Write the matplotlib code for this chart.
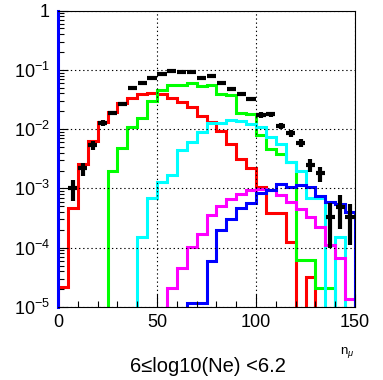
import numpy as np
import matplotlib
matplotlib.use("Agg")
import matplotlib.pyplot as plt
from matplotlib.ticker import LogLocator, MultipleLocator, NullFormatter

plt.rcParams['font.family'] = ['Liberation Sans', 'DejaVu Sans']
plt.rcParams['mathtext.fontset'] = 'custom'
plt.rcParams['mathtext.rm'] = 'Liberation Sans'
plt.rcParams['mathtext.it'] = 'Liberation Sans:italic'
plt.rcParams['mathtext.sf'] = 'Liberation Sans'

# n_mu bins, width 5, 0..150
bin_edges = np.arange(0, 155, 5)

# normalised n_mu distributions per primary (one value per bin)
red = [2.2e-5, 4.6e-4, 2.6e-3, 6.4e-3, 1.33e-2, 1.96e-2, 2.72e-2, 3.4e-2, 3.9e-2, 4.0e-2,
       3.9e-2, 3.35e-2, 2.9e-2, 2.33e-2, 1.67e-2, 1.33e-2, 9.3e-3, 5.6e-3, 3.1e-3, 2.18e-3,
       1.07e-3, 3.8e-4, 3.8e-4, 1.26e-4, 0, 3.2e-5, 0, 0, 0, 0]
green = [0, 0, 0, 0, 0, 2.0e-3, 4.85e-3, 1.07e-2, 1.52e-2, 3.0e-2,
         4.65e-2, 5.54e-2, 5.65e-2, 5.92e-2, 5.33e-2, 5.54e-2, 3.91e-2, 3.76e-2, 1.89e-2, 1.8e-2,
         7.95e-3, 4.56e-3, 3.8e-3, 2.82e-3, 6.2e-5, 6.2e-5, 2.07e-5, 2.07e-5, 0, 0]
cyan = [0, 0, 0, 0, 0, 0, 0, 0, 1.54e-4, 6.9e-4,
        1.3e-3, 1.68e-3, 4.45e-3, 6.13e-3, 9.0e-3, 1.25e-2, 1.25e-2, 1.42e-2, 1.37e-2, 1.2e-2,
        1.1e-2, 7.45e-3, 5.6e-3, 2.82e-3, 1.99e-3, 6.8e-4, 6.8e-4, 0, 1.5e-4, 0]
magenta = [0, 0, 0, 0, 0, 0, 0, 0, 0, 0,
           0, 2.1e-5, 4.6e-5, 1.04e-4, 1.68e-4, 3.56e-4, 5.05e-4, 6.5e-4, 7.9e-4, 9.4e-4,
           9.8e-4, 9.4e-4, 7.7e-4, 5.97e-4, 4.44e-4, 3.33e-4, 2.26e-4, 1.11e-4, 6.6e-5, 1.35e-5]
blue = [0, 0, 0, 0, 0, 0, 0, 0, 0, 0,
        0, 0, 0, 1.15e-5, 1.15e-5, 6.0e-5, 1.99e-4, 3.01e-4, 4.62e-4, 5.74e-4,
        8.5e-4, 9.4e-4, 1.19e-3, 1.07e-3, 1.14e-3, 1.04e-3, 7.4e-4, 6.0e-4, 5.5e-4, 4.05e-4]

# measured distribution, bins 5..150
data_val = [1.0e-3, 2.18e-3, 5.4e-3, 1.28e-2, 1.85e-2, 2.65e-2, 4.9e-2, 6.1e-2, 7.36e-2, 8.4e-2,
            9.4e-2, 9.1e-2, 9.1e-2, 7.3e-2, 7.9e-2, 6.1e-2, 4.75e-2, 3.86e-2, 3.18e-2, 1.73e-2,
            1.78e-2, 1.14e-2, 8.5e-3, 5.9e-3, 2.48e-3, 1.8e-3, 3.3e-4, 4.9e-4, 3.3e-4]
data_err = [3.9e-4, 5.5e-4, 9.0e-4, 1.3e-3, 1.5e-3, 1.9e-3, 2.5e-3, 3.0e-3, 3.5e-3, 4.0e-3,
            4.5e-3, 4.5e-3, 4.5e-3, 4.0e-3, 4.0e-3, 3.5e-3, 3.0e-3, 2.7e-3, 2.5e-3, 1.8e-3,
            1.8e-3, 1.5e-3, 1.2e-3, 9.0e-4, 6.2e-4, 5.0e-4, 2.3e-4, 2.8e-4, 2.2e-4]

fig = plt.figure(figsize=(3.83, 3.80), dpi=100)
ax = fig.add_axes([58 / 383, 73 / 380, 297 / 383, 296.5 / 380])
ax.set_yscale('log')

for vals, col in [(red, '#ff0000'), (green, '#00ff00'), (cyan, '#00ffff'),
                  (magenta, '#ff00ff'), (blue, '#0000ff')]:
    ax.stairs(vals, bin_edges, color=col, lw=2.2)

centers = (bin_edges[:-1] + bin_edges[1:]) / 2
ax.errorbar(centers[1:], data_val, xerr=2.3, yerr=data_err, fmt='none',
            ecolor='black', elinewidth=3.0, capsize=0, zorder=5)

ax.set_xlim(0, 150)
ax.set_ylim(1e-5, 1)

ax.set_xticks([0, 50, 100, 150])
ax.xaxis.set_minor_locator(MultipleLocator(10))
ax.set_yticks([1e-5, 1e-4, 1e-3, 1e-2, 1e-1, 1])
ax.set_yticklabels([r'$10^{-5}$', r'$10^{-4}$', r'$10^{-3}$', r'$10^{-2}$', r'$10^{-1}$', '1'])
ax.yaxis.set_minor_locator(LogLocator(base=10, subs=np.arange(2, 10)))
ax.yaxis.set_minor_formatter(NullFormatter())

ax.tick_params(which='both', direction='in', top=False, right=False,
               labelsize=13, color='black', width=0.8)
ax.tick_params(axis='x', which='major', length=9.5, pad=5)
ax.tick_params(axis='x', which='minor', length=4.3)
ax.tick_params(axis='y', which='major', length=7, pad=6)
ax.tick_params(axis='y', which='minor', length=4.3)

ax.grid(True, which='major', color='black', lw=0.8, ls=(0, (1.2, 2.5)))

for s in ['top', 'right', 'bottom']:
    ax.spines[s].set_linewidth(0.8)
ax.spines['left'].set_color('#0000ff')
ax.spines['left'].set_linewidth(2.2)

fig.text(347 / 383, 1 - 352 / 380, r'n$_{\mu}$', fontsize=9.5, ha='center', va='center')
fig.text(208 / 383, 1 - 366 / 380, '6≤log10(Ne) <6.2', fontsize=14.5, ha='center', va='center')

fig.savefig('out.png', dpi=100)
